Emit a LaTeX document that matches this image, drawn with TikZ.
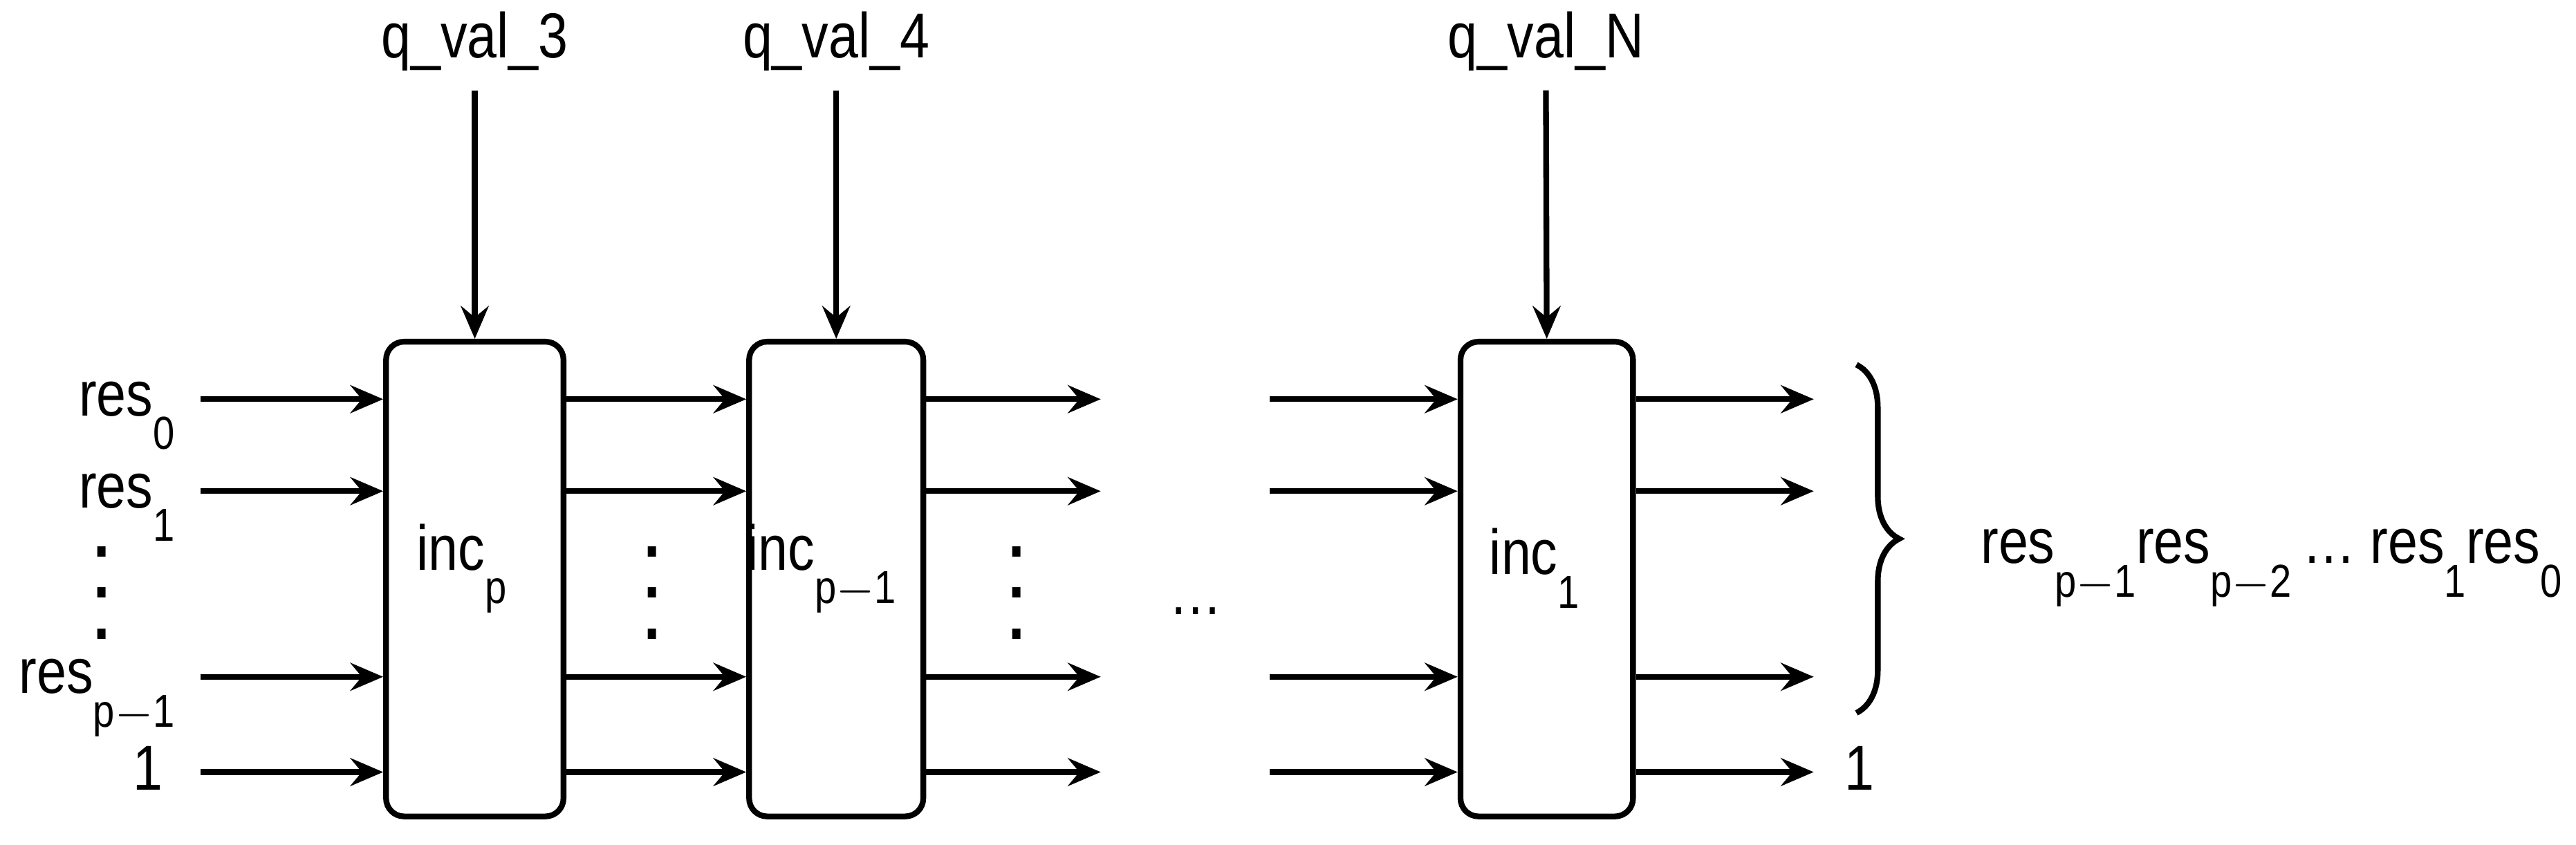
\documentclass[tikz,border=0pt]{standalone}
\usepackage{fontspec}
\setmainfont{Liberation Sans}[FakeStretch=0.84]
\usetikzlibrary{arrows.meta,positioning,decorations.pathreplacing}
\newcommand{\lowsub}[1]{\raisebox{-1.0ex}{\footnotesize #1}}
\tikzset{
  arr/.style={line width=0.35mm,-{Stealth[length=2mm,width=1.7mm,inset=0.7mm]}},
  incbox/.style={draw,line width=0.35mm,rounded corners=1.1mm,minimum height=28.9mm,inner sep=0pt},
  lbl/.style={font=\fontsize{11}{13}\selectfont,inner sep=0pt},
  dot/.style={font=\fontsize{12}{13}\bfseries,inner sep=0pt,text height=1.2pt,text depth=0pt}
}
\begin{document}
\begin{tikzpicture}[x=0.1mm,y=-0.1mm]
  \useasboundingbox (0,0) rectangle (1568,514);
  % blocks
  \node[incbox,minimum width=10.8mm] (b1) at (289,352.5) {};
  \node[incbox,minimum width=10.6mm] (b2) at (509,352.5) {};
  \node[incbox,minimum width=10.5mm] (b3) at (941.5,352.5) {};
  \node[lbl] (t1) at (281,346) {inc\lowsub{p}};
  \node[lbl] (t2) at (500,346) {inc\lowsub{p$-$1}};
  \node[lbl] (t3) at (934,346) {inc\lowsub{1}};
  % top inputs
  \node[lbl] (q1) at (289,25) {q\_val\_3};
  \node[lbl] (q2) at (509,25) {q\_val\_4};
  \node[lbl] (q3) at (941,25) {q\_val\_N};
  \draw[arr] (289,55) -- (b1.north);
  \draw[arr] (509,55) -- (b2.north);
  \draw[arr] (941,55) -- (b3.north);
  % rows
  \foreach \r/\y in {0/243,1/299,2/412,3/470}{
    \coordinate (l\r) at (122,\y);
    \coordinate (m\r) at (670,\y);
    \coordinate (n\r) at (773,\y);
    \coordinate (o\r) at (1104,\y);
    \draw[arr] (l\r) -- (b1.west |- l\r);
    \draw[arr] (b1.east |- l\r) -- (b2.west |- l\r);
    \draw[arr] (b2.east |- l\r) -- (m\r);
    \draw[arr] (n\r) -- (b3.west |- l\r);
    \draw[arr] (b3.east |- l\r) -- (o\r);
  }
  % labels
  \node[lbl,anchor=base east] (r0) at (107,253) {res\lowsub{0}};
  \node[lbl,anchor=base east] (r1) at (107,309) {res\lowsub{1}};
  \node[lbl,anchor=base east] (r2) at (107,422) {res\lowsub{p$-$1}};
  \node[lbl,anchor=base east] (r3) at (100,481) {1};
  \node[lbl,anchor=base west] (o1) at (1122,481) {1};
  \foreach \x/\n in {62/a,397/b,619/c}
    \foreach \d/\yy in {1/-25,2/0,3/25}
      \node[dot] (v\n\d) at (\x,362+\yy) {.};
  \node[lbl] (d4) at (728,372) {\dots};
  % result
  \draw[line width=0.35mm,decorate,decoration={brace,amplitude=2.6mm}] (1130,222) -- (1130,434);
  \node[lbl,anchor=base west] (res) at (1205,343) {res\lowsub{p$-$1}res\lowsub{p$-$2}\,\dots\ res\lowsub{1}res\lowsub{0}};
\end{tikzpicture}
\end{document}
